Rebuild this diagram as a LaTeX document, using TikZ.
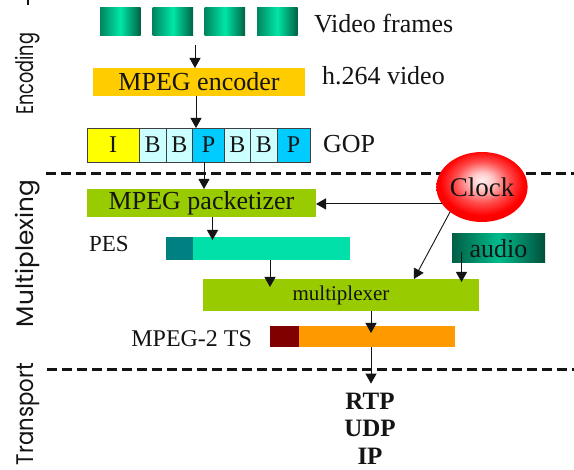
\documentclass[tikz,border=0pt]{standalone}
\usepackage{fontspec}
\usepackage{graphicx}
\setmainfont{Liberation Serif}
\newfontfamily\sidefont{Poppins}
\usetikzlibrary{arrows.meta,shapes.geometric,calc}

\definecolor{frameedge}{HTML}{008560}
\definecolor{framemid}{HTML}{00E6A6}
\definecolor{frameedgeb}{HTML}{006246}
\definecolor{encfill}{HTML}{FFCC00}
\definecolor{ifill}{HTML}{FFFF00}
\definecolor{bfill}{HTML}{CCFFFF}
\definecolor{pfill}{HTML}{00CCFF}
\definecolor{cellline}{HTML}{404040}
\definecolor{lime}{HTML}{99CC00}
\definecolor{peshead}{HTML}{008080}
\definecolor{pesbody}{HTML}{00E0A8}
\definecolor{tshead}{HTML}{800000}
\definecolor{tsbody}{HTML}{FF9900}
\definecolor{audioedge}{HTML}{005E45}
\definecolor{audiomid}{HTML}{00BB8C}
\definecolor{ink}{HTML}{141414}

% soft red glow for the clock
\pgfdeclareradialshading{clockglow}{\pgfpoint{0bp}{5bp}}{%
  color(0bp)=(red!6!white); color(6bp)=(red!22!white);
  color(15bp)=(red!70!white); color(23bp)=(red); color(50bp)=(red)}

\begin{document}
\begin{tikzpicture}[x=1pt,y=-1pt,
  every node/.style={inner sep=0pt, outer sep=0pt, text=ink},
  block/.style 2 args={anchor=north west, minimum width=#1, minimum height=#2},
  serif/.style={font=\fontsize{26}{30}\selectfont},
  frame/.style={left color=frameedge, right color=frameedgeb, middle color=framemid},
  cell/.style={anchor=north west, draw=cellline, line width=0.8pt,
    minimum width=#1, minimum height=34, font=\fontsize{24}{28}\selectfont},
  side/.style={rotate=90, anchor=base, font=\sidefont\fontsize{24}{28}\selectfont},
  flow/.style={draw=ink, line width=0.9pt, -{Triangle[length=10pt,width=11pt]}},
  layerline/.style={draw=ink, line width=3pt, dash pattern=on 10pt off 5pt}]

\fill[white] (0,0) rectangle (574,470);
\useasboundingbox (0,0) rectangle (574,470);

% layer separators
\draw[layerline] (46,173.5) -- (574,173.5);
\draw[layerline] (47,370) -- (574,370);
\draw[ink, line width=2pt] (27.5,0) -- (27.5,5);

% layer names
\node[side] (lenc) at (34,74) {\resizebox{82pt}{\height}{Encoding}};
\node[side] (lmux) at (34,253.5) {\resizebox{147pt}{\height}{Multiplexing}};
\node[side] (ltra) at (34,414) {\resizebox{102pt}{\height}{Transport}};

% encoding layer
\node[frame, block={40.5}{28}] (f1) at (100,8) {};
\node[frame, block={40.5}{28}] (f2) at (152.5,8) {};
\node[frame, block={40.5}{28}] (f3) at (204.5,8) {};
\node[frame, block={40.5}{28}] (f4) at (257,8) {};
\node[serif, anchor=base west] (vf) at (314,33) {Video frames};

\node[block={212}{28}, fill=encfill, serif] (enc) at (93,68) {MPEG encoder};
\node[serif, anchor=base west] (h264) at (322,85) {h.264 video};

\node[cell=52, fill=ifill] (gi) at (87,128) {I};
\node[cell=26.7, fill=bfill] (gb1) at (139.3,128) {B};
\node[cell=26.7, fill=bfill] (gb2) at (166,128) {B};
\node[cell=31.6, fill=pfill] (gp1) at (192.7,128) {P};
\node[cell=26.4, fill=bfill] (gb3) at (224.3,128) {B};
\node[cell=26.6, fill=bfill] (gb4) at (250.7,128) {B};
\node[cell=32.7, fill=pfill] (gp2) at (277.3,128) {P};
\node[serif, anchor=base west] (gop) at (323,153) {GOP};

% multiplexing layer
\node[block={229}{28}, fill=lime, serif] (pack) at (87,189) {MPEG packetizer};
\node[ellipse, minimum width=91, minimum height=70, shading=clockglow,
      font=\fontsize{27}{30}\selectfont] (clock) at (482,187) {Clock};

\node[serif, font=\fontsize{23}{26}\selectfont, anchor=base west] (pes) at (89,252) {PES};
\node[block={27}{23}, fill=peshead] (pesh) at (166,237) {};
\node[block={157}{23}, fill=pesbody] (pesb) at (193,237) {};

\node[block={93}{29}, left color=audioedge, right color=audioedge!85!black,
      middle color=audiomid, serif] (audio) at (452,234) {audio};

\node[block={276}{32}, fill=lime, font=\fontsize{21}{24}\selectfont] (mux) at (203,279) {multiplexer};

\node[font=\fontsize{24}{28}\selectfont, anchor=base east] (tslbl) at (252,347) {MPEG-2 TS};
\node[block={29}{21}, fill=tshead] (tsh) at (270,326) {};
\node[block={156}{21}, fill=tsbody] (tsb) at (299,326) {};

% transport layer
\node[font=\bfseries\fontsize{25}{28}\selectfont, anchor=base] (rtp) at (370,410) {RTP};
\node[font=\bfseries\fontsize{25}{28}\selectfont, anchor=base] (udp) at (370,437) {UDP};
\node[font=\bfseries\fontsize{25}{28}\selectfont, anchor=base] (ip) at (370,465) {IP};

% data flow
\coordinate (a1) at (195,45);
\coordinate (a2) at (196,0);
\coordinate (a3) at (204,0);
\coordinate (a5) at (212.5,0);
\coordinate (a7) at (461.5,252);
\coordinate (a8) at (270,0);
\coordinate (a9) at (371,0);

\draw[flow] (a1) -- (a1 |- enc.north);
\draw[flow] (enc.south -| a2) -- (gi.north -| a2);
\draw[flow] (gp1.south -| a3) -- (pack.north -| a3);
\draw[flow] (clock.203) -- (clock.203 -| pack.east);
\draw[flow, shorten >=-3pt] (pack.south -| a5) -- (pesb.north -| a5);
\draw[flow] (clock.218) -- ([xshift=211pt]mux.north west);
\draw[flow, shorten >=-3pt] (a7) -- (a7 |- mux.north);
\draw[flow, shorten >=-8pt] (pesb.south -| a8) -- (mux.north -| a8);
\draw[flow, shorten >=-7pt] (mux.south -| a9) -- (tsb.north -| a9);
\draw[flow, shorten >=10pt] (tsb.south -| a9) -- (rtp.north -| a9);
\end{tikzpicture}
\end{document}
